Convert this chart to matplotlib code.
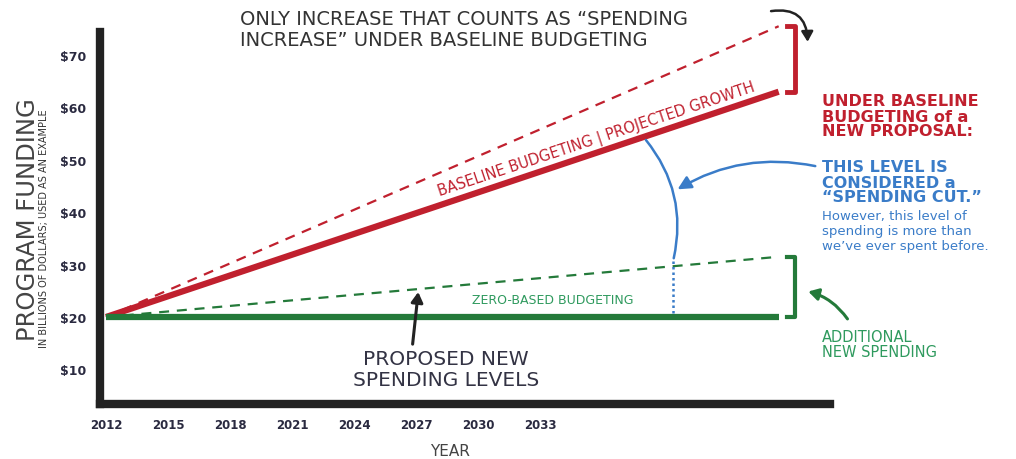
import matplotlib
matplotlib.use("Agg")
from matplotlib import pyplot as plt

# data
years = [2012, 2044.5]
baseline_growth = [20, 63]       # baseline budgeting / projected growth
counted_increase = [20, 75.5]    # only increase counted as spending increase
zero_based = [20, 31.5]          # zero-based budgeting
proposed = [20, 20]              # proposed new spending level
xticks = [2012, 2015, 2018, 2021, 2024, 2027, 2030, 2033]
yticks = [10, 20, 30, 40, 50, 60, 70]
ytick_labels = ["$10", "$20", "$30", "$40", "$50", "$60", "$70"]

RED = "#c0202e"
GREEN = "#247a3a"
BLUE = "#3a7cc8"
TEAL = "#2f9a5e"
DARK = "#222222"

fig = plt.figure(figsize=(10.16, 4.6), dpi=100)
ax = fig.add_axes([100/1016, 1-405/460, 730/1016, 372/460])

ax.plot(years, counted_increase, color=RED, lw=1.6, dashes=(4.5, 3.5), clip_on=False)
ax.plot(years, baseline_growth, color=RED, lw=4.5, solid_capstyle="butt", clip_on=False)
ax.plot(years, zero_based, color=GREEN, lw=1.6, dashes=(4.5, 3.5), clip_on=False)
ax.plot(years, proposed, color=GREEN, lw=4.5, solid_capstyle="butt", clip_on=False)

ax.set_xlim(2011.71, 2046.98)
ax.set_ylim(3.4, 74.4)
ax.set_xticks(xticks)
ax.set_xticklabels([str(y) for y in xticks], fontweight="bold", fontsize=8.5, color="#2a2a40")
ax.set_yticks(yticks)
ax.set_yticklabels(ytick_labels, fontweight="bold", fontsize=9, color="#2a2a40")
ax.tick_params(length=0, pad=10)
for s in ["top", "right"]:
    ax.spines[s].set_visible(False)
for s in ["left", "bottom"]:
    ax.spines[s].set_linewidth(6)
    ax.spines[s].set_color(DARK)
    ax.spines[s].set_capstyle("projecting")

# brackets
bx = 2045.3
ax.plot([bx-0.4, bx, bx, bx-0.4], [counted_increase[1], counted_increase[1], baseline_growth[1], baseline_growth[1]],
        color=RED, lw=3.5, clip_on=False)
ax.plot([bx-0.4, bx, bx, bx-0.4], [zero_based[1], zero_based[1], proposed[1], proposed[1]],
        color=GREEN, lw=3, clip_on=False)

# blue arc + dotted drop
ax.annotate("", xy=(2039.4, 30.7), xytext=(2038.0, 54.2),
            arrowprops=dict(arrowstyle="-", color=BLUE, lw=1.8, connectionstyle="arc3,rad=-0.25"))
ax.plot([2039.4, 2039.4], [30.7, 20.4], color=BLUE, lw=1.8, ls=(0, (1, 1.2)))
ax.annotate("", xy=(2039.5, 44.1), xytext=(2046.4, 48.7), annotation_clip=False,
            arrowprops=dict(arrowstyle="-|>,head_length=0.8,head_width=0.4", color=BLUE, lw=1.8,
                            connectionstyle="arc3,rad=0.2"))
# black arrows
ax.annotate("", xy=(2045.9, 72.0), xytext=(2044.0, 78.3), annotation_clip=False,
            arrowprops=dict(arrowstyle="-|>,head_length=0.6,head_width=0.35", color=DARK, lw=1.8,
                            connectionstyle="arc3,rad=-0.6"))
ax.annotate("", xy=(2027.1, 25.3), xytext=(2026.8, 14.3), annotation_clip=False,
            arrowprops=dict(arrowstyle="-|>,head_length=0.6,head_width=0.35", color=DARK, lw=2.2))
# green arrow
ax.annotate("", xy=(2045.8, 25.0), xytext=(2047.9, 19.2), annotation_clip=False,
            arrowprops=dict(arrowstyle="-|>,head_length=0.6,head_width=0.35", color=GREEN, lw=2.2,
                            connectionstyle="arc3,rad=0.2"))

# line labels
ax.text(2035.7, 54.0, "BASELINE BUDGETING | PROJECTED GROWTH", color=RED, fontsize=10.5,
        rotation=18.4, ha="center", va="center", rotation_mode="anchor")
fig.text(553/1016, 1-300/460, "ZERO-BASED BUDGETING", color=TEAL, fontsize=9, ha="center", va="center")

# axis labels
fig.text(28/1016, 1-220/460, "PROGRAM FUNDING", rotation=90, fontsize=17.5, color="#444444",
         ha="center", va="center")
fig.text(44/1016, 1-229/460, "IN BILLIONS OF DOLLARS; USED AS AN EXAMPLE", rotation=90, fontsize=7,
         color="#333333", ha="center", va="center")
fig.text(450/1016, 1-452/460, "YEAR", fontsize=11, color="#444444", ha="center", va="center")

# annotations
fig.text(240/1016, 1-30/460, "ONLY INCREASE THAT COUNTS AS \u201cSPENDING\nINCREASE\u201d UNDER BASELINE BUDGETING",
         fontsize=14, color="#333333", ha="left", va="center", linespacing=1.1)
fig.text(446/1016, 1-370/460, "PROPOSED NEW\nSPENDING LEVELS", fontsize=14.5, color="#333344",
         ha="center", va="center", linespacing=1.15)
fig.text(822/1016, 1-117/460, "UNDER BASELINE\nBUDGETING of a\nNEW PROPOSAL:", fontsize=11.5,
         fontweight="bold", color=RED, ha="left", va="center", linespacing=1.0)
fig.text(822/1016, 1-183/460, "THIS LEVEL IS\nCONSIDERED a\n\u201cSPENDING CUT.\u201d", fontsize=11.5,
         fontweight="bold", color=BLUE, ha="left", va="center", linespacing=1.0)
fig.text(822/1016, 1-232/460, "However, this level of\nspending is more than\nwe\u2019ve ever spent before.",
         fontsize=9.5, color=BLUE, ha="left", va="center", linespacing=1.2)
fig.text(822/1016, 1-345/460, "ADDITIONAL\nNEW SPENDING", fontsize=10.5, color=TEAL,
         ha="left", va="center", linespacing=1.0)

fig.savefig("out.png", dpi=100)
